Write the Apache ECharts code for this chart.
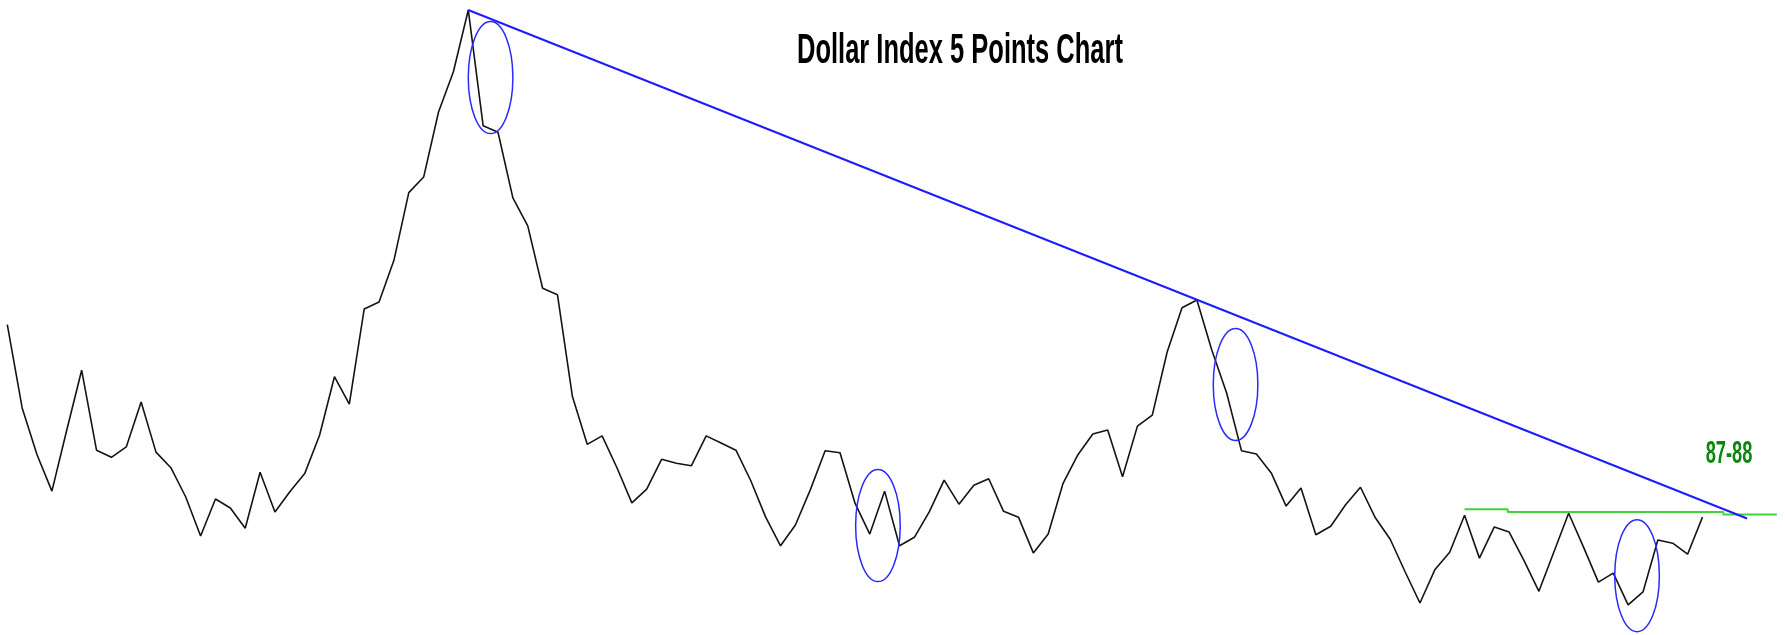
<!DOCTYPE html>
<html>
<head>
<meta charset="utf-8">
<title>Dollar Index 5 Points Chart</title>
<script src="https://cdn.jsdelivr.net/npm/echarts@6/dist/echarts.min.js"></script>
<style>
  html, body { margin: 0; padding: 0; background: #ffffff; }
  #chart { width: 1785px; height: 635px; }
</style>
</head>
<body>
<div id="chart"></div>
<script>
// Dollar index, one reading per 5-point step
const closes = [
  116.3, 103.5, 96.3, 90.7, 100.1, 109.3, 97.0, 95.9, 97.5, 104.4,
  96.7, 94.3, 89.8, 83.8, 89.5, 88.1, 85.0, 93.6, 87.5, 90.6,
  93.4, 99.3, 108.3, 104.1, 118.7, 119.8, 126.2, 136.6, 139.0, 149.0,
  155.2, 164.7, 146.9, 145.9, 135.8, 131.5, 121.9, 120.9, 105.3, 97.9,
  99.2, 94.3, 88.9, 91.0, 95.6, 95.0, 94.6, 99.2, 98.1, 97.0,
  92.3, 86.7, 82.3, 85.5, 90.9, 96.9, 96.6, 88.9, 84.1, 90.7,
  82.3, 83.6, 87.5, 92.4, 88.7, 91.6, 92.6, 87.6, 86.7, 81.2,
  84.1, 91.9, 96.3, 99.5, 100.1, 92.9, 100.7, 102.4, 112.1, 118.9,
  120.1, 112.4, 105.8, 96.9, 96.4, 93.5, 88.4, 91.2, 84.0, 85.3,
  88.6, 91.3, 86.6, 83.3, 78.3, 73.5, 78.6, 81.3, 87.0, 80.4,
  85.2, 84.4, 80.0, 75.3, 81.3, 87.3, 82.1, 76.7, 78.1, 73.2,
  75.2, 83.2, 82.7, 81.0, 86.7
];

// Falling resistance from the major top through the later high
const trendline = [[31, 164.7], [117, 86.5]];

// Horizontal resistance zone at 87-88
const resistance = [
  [98, 87.9], [100.9, 87.9],
  [100.9, 87.5], [115.4, 87.5],
  [115.4, 87.1], [119, 87.1]
];

// Turning points circled on the chart
const circled = [[32.5, 154.3], [58.55, 85.4], [82.6, 107.1], [109.6, 77.7]];

const titleText = 'Dollar Index 5 Points Chart';
const zoneLabel = '87-88';

const chart = echarts.init(document.getElementById('chart'), null, { renderer: 'canvas' });

chart.setOption({
  animation: false,
  backgroundColor: '#ffffff',
  grid: { left: 7.3, right: 8.17, top: 8, bottom: 9.25, containLabel: false },
  xAxis: { type: 'value', min: 0, max: 119, show: false },
  yAxis: { type: 'value', min: 70, max: 165, show: false },
  graphic: [
    {
      type: 'text',
      x: 797, y: 51,
      scaleX: 0.593,
      style: {
        text: titleText,
        font: 'bold 43px "Liberation Sans", Arial, sans-serif',
        fill: '#000000',
        align: 'left',
        verticalAlign: 'middle'
      }
    },
    {
      type: 'text',
      x: 1705.7, y: 454,
      scaleX: 0.57,
      style: {
        text: zoneLabel,
        font: 'bold 32px "Liberation Sans", Arial, sans-serif',
        fill: '#0b870b',
        align: 'left',
        verticalAlign: 'middle'
      }
    }
  ],
  series: [
    {
      name: 'Dollar Index',
      type: 'line',
      data: closes.map((v, i) => [i, v]),
      showSymbol: false,
      lineStyle: { color: '#141414', width: 1.6 },
      z: 3
    },
    {
      name: 'Trendline',
      type: 'line',
      data: trendline,
      showSymbol: false,
      lineStyle: { color: '#1c1cff', width: 2 },
      z: 4
    },
    {
      name: '87-88',
      type: 'line',
      data: resistance,
      showSymbol: false,
      lineStyle: { color: '#3ed23e', width: 2 },
      z: 2
    },
    {
      name: 'Circled',
      type: 'custom',
      data: circled,
      renderItem: function (params, api) {
        const c = api.coord([api.value(0), api.value(1)]);
        return {
          type: 'ellipse',
          shape: { cx: c[0], cy: c[1], rx: 22.3, ry: 56 },
          style: { fill: 'none', stroke: '#2a2aff', lineWidth: 1.5 }
        };
      },
      z: 5
    }
  ]
});
</script>
</body>
</html>
